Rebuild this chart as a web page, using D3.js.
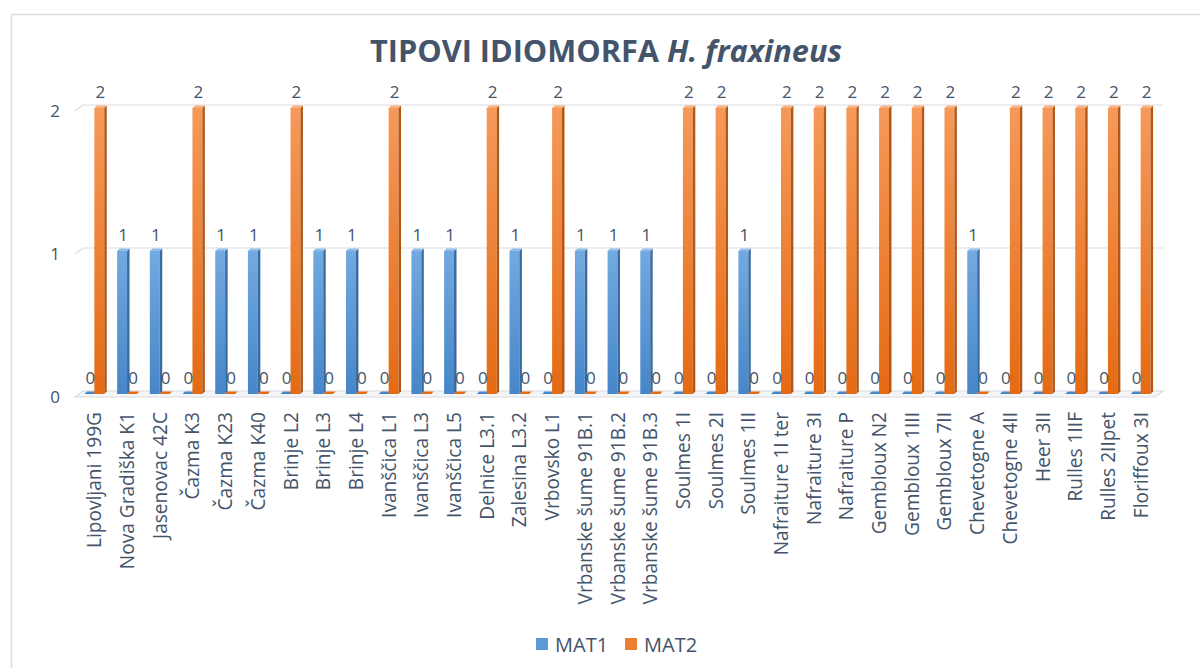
<!DOCTYPE html>
<html>
<head>
<meta charset="utf-8" />
<title>TIPOVI IDIOMORFA H. fraxineus</title>
<script src="https://d3js.org/d3.v7.min.js"></script>
<style>
    body { margin: 0; background: #fff; }
    text { font-family: "Open Sans", sans-serif; fill: #44546a; }
</style>
</head>
<body>
<div id="chart"></div>
<script>

const categories = ["Lipovljani 199G", "Nova Gradiška K1", "Jasenovac 42C", "Čazma K3", "Čazma K23", "Čazma K40",
    "Brinje L2", "Brinje L3", "Brinje L4", "Ivanščica L1", "Ivanščica L3", "Ivanščica L5",
    "Delnice L3.1", "Zalesina L3.2", "Vrbovsko L1", "Vrbanske šume 91B.1", "Vrbanske šume 91B.2", "Vrbanske šume 91B.3",
    "Soulmes 1I", "Soulmes 2I", "Soulmes 1II", "Nafraiture 1I ter", "Nafraiture 3I", "Nafraiture P",
    "Gembloux N2", "Gembloux 1III", "Gembloux 7II", "Chevetogne A", "Chevetogne 4II", "Heer 3II",
    "Rulles 1IIF", "Rulles 2IIpet", "Floriffoux 3I"];
const mat1 = [0, 1, 1, 0, 1, 1, 0, 1, 1, 0, 1, 1, 0, 1, 0, 1, 1, 1, 0, 0, 1, 0, 0, 0, 0, 0, 0, 1, 0, 0, 0, 0, 0];
const mat2 = [2, 0, 0, 2, 0, 0, 2, 0, 0, 2, 0, 0, 2, 0, 2, 0, 0, 0, 2, 2, 0, 2, 2, 2, 2, 2, 2, 0, 2, 2, 2, 2, 2];
const seriesNames = ["MAT1", "MAT2"];
const yTicks = [0, 1, 2];

const W = 1200, H = 668;
const depth = {dx: 2.5, dy: -2.5};   // bar depth
const wall = {dx: 8, dy: -6};        // back wall offset for gridlines

const svg = d3.select("#chart").append("svg")
    .attr("width", W).attr("height", H);

// colours per series: front gradient top/bottom, side, top face
const colors = {
    MAT1: {top: "#72a9e0", bottom: "#4686c8", side: "#3a6b9f", cap: "#8fbde8"},
    MAT2: {top: "#f5995a", bottom: "#e56a12", side: "#b45716", cap: "#f8b07f"}
};

const defs = svg.append("defs");
seriesNames.forEach(k => {
    const g = defs.append("linearGradient").attr("id", "grad-" + k)
        .attr("x1", 0).attr("y1", 0).attr("x2", 0).attr("y2", 1);
    g.append("stop").attr("offset", "0%").attr("stop-color", colors[k].top);
    g.append("stop").attr("offset", "100%").attr("stop-color", colors[k].bottom);
});

// frame
svg.append("rect")
    .attr("x", 11.5).attr("y", 14.5)
    .attr("width", 1200).attr("height", 700)
    .attr("fill", "none").attr("stroke", "#dadee5").attr("stroke-width", 1.5);

const x = d3.scaleBand().domain(categories).range([78, 1157]);
const xSub = d3.scaleBand().domain(seriesNames).range([0, x.bandwidth()]).paddingOuter(0.65);
const y = d3.scaleLinear().domain([0, 2]).range([394, 108]);

const x0 = x.range()[0], x1 = x.range()[1];

// floor
const y0 = y(0);
svg.append("path")
    .attr("d", `M${x0 - 3},${y0 + 3}L${x0 - 3 + wall.dx},${y0 + 3 + wall.dy}L${x1 + 6},${y0 + 3 + wall.dy}L${x1 - 2},${y0 + 3}Z`)
    .attr("fill", "#f4f5f7").attr("stroke", "#d9dce2").attr("stroke-width", 1.2);

// gridlines on the back wall + side slant
yTicks.filter(t => t > 0).forEach(t => {
    const fy = y(t) + 3;
    svg.append("path")
        .attr("d", `M${x0 - 3},${fy}L${x0 - 3 + wall.dx},${fy + wall.dy}L${x1 + 6},${fy + wall.dy}`)
        .attr("fill", "none").attr("stroke", "#d9dce2").attr("stroke-width", 1.2);
});

// y labels
svg.append("g").selectAll("text")
    .data(yTicks)
    .join("text")
    .attr("x", 60).attr("y", d => y(d) + 2)
    .attr("text-anchor", "end").attr("dominant-baseline", "central")
    .style("font-size", "17px")
    .text(d => d);

// bar data
const bars = [];
categories.forEach((c, i) => {
    bars.push({cat: c, key: "MAT1", value: mat1[i]});
    bars.push({cat: c, key: "MAT2", value: mat2[i]});
});

const bw = xSub.bandwidth();
const barG = svg.append("g");
bars.forEach(d => {
    const bx = x(d.cat) + xSub(d.key);
    const top = y(d.value), bot = y(0);
    const g = barG.append("g");
    if (d.value > 0) {
        g.append("rect").attr("x", bx).attr("y", top).attr("width", bw).attr("height", bot - top)
            .attr("fill", `url(#grad-${d.key})`);
        g.append("path")
            .attr("d", `M${bx + bw},${top}L${bx + bw + depth.dx},${top + depth.dy}L${bx + bw + depth.dx},${bot + depth.dy}L${bx + bw},${bot}Z`)
            .attr("fill", colors[d.key].side);
    }
    g.append("path")
        .attr("d", `M${bx},${top}L${bx + depth.dx},${top + depth.dy}L${bx + bw + depth.dx},${top + depth.dy}L${bx + bw},${top}Z`)
        .attr("fill", d.value > 0 ? colors[d.key].cap : colors[d.key].bottom);
});

// data labels
svg.append("g").selectAll("text")
    .data(bars)
    .join("text")
    .attr("x", d => x(d.cat) + xSub(d.key) + bw / 2 + 1)
    .attr("y", d => y(d.value) - 17)
    .attr("text-anchor", "middle").attr("dominant-baseline", "central")
    .style("font-size", "17px")
    .text(d => d.value);

// category labels (rotated)
const catG = svg.append("g");
const catLabels = catG.selectAll("text")
    .data(categories)
    .join("text")
    .attr("transform", d => `translate(${x(d) + x.bandwidth() / 2},412) rotate(-90)`)
    .attr("text-anchor", "end").attr("dominant-baseline", "central")
    .style("font-size", "16px")
    .text(d => d);
// fit font so that first label is ~136px long
const firstLen = catLabels.node().getComputedTextLength();
catLabels.style("font-size", (16 * 136 / firstLen).toFixed(2) + "px");

// title
const title = svg.append("text")
    .attr("x", 606).attr("y", 62)
    .attr("text-anchor", "middle")
    .style("font-size", "30px").style("font-weight", "bold");
title.append("tspan").text("TIPOVI IDIOMORFA ");
title.append("tspan").style("font-style", "italic").text("H. fraxineus");
const tLen = title.node().getComputedTextLength();
title.style("font-size", (30 * 472 / tLen).toFixed(2) + "px");

// legend
const legend = svg.append("g");
const legendX = [536, 625];
seriesNames.forEach((k, i) => {
    legend.append("rect")
        .attr("x", legendX[i]).attr("y", 638).attr("width", 12).attr("height", 12)
        .attr("fill", i === 0 ? "#5b9bd5" : "#ed7d31");
    legend.append("text")
        .attr("x", legendX[i] + 19).attr("y", 644)
        .attr("dominant-baseline", "central")
        .style("font-size", "20px")
        .text(k);
});

</script>
</body>
</html>
